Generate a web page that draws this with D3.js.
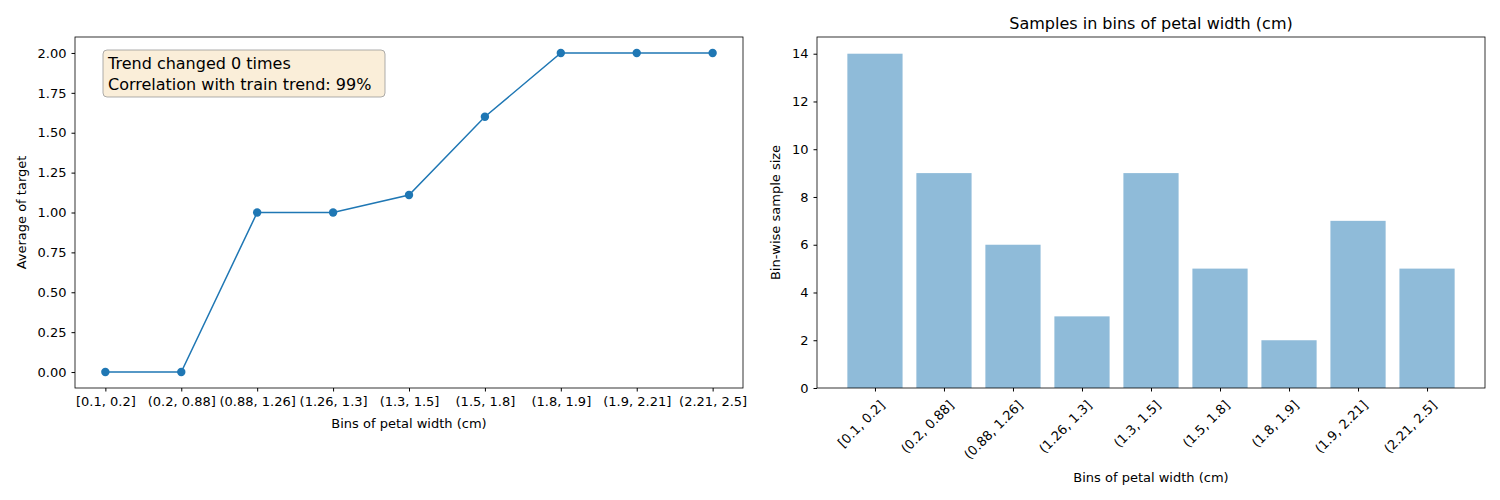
<!DOCTYPE html><html><head><meta charset="utf-8">
<script src="https://cdn.jsdelivr.net/npm/d3@7"></script>
<style>body{margin:0;background:#fff}text{font-family:"DejaVu Sans",sans-serif;fill:#000}</style></head><body>
<svg id="c" width="1500" height="500"></svg>
<script>
const categories=["[0.1,  0.2]","(0.2, 0.88]","(0.88, 1.26]","(1.26, 1.3]","(1.3, 1.5]","(1.5, 1.8]","(1.8, 1.9]","(1.9, 2.21]","(2.21, 2.5]"];
const barCategories=["[0.1, 0.2]","(0.2, 0.88]","(0.88, 1.26]","(1.26, 1.3]","(1.3, 1.5]","(1.5, 1.8]","(1.8, 1.9]","(1.9, 2.21]","(2.21, 2.5]"];
const avgTarget=[0,0,1,1,1.11,1.6,2,2,2];
const sampleSize=[14,9,6,3,9,5,2,7,5];
const leftTicks=[0,0.25,0.5,0.75,1.0,1.25,1.5,1.75,2.0];
const rightTicks=[0,2,4,6,8,10,12,14];
const svg=d3.select("#c");
const fs="13px";
function styleAxis(g){g.selectAll("path,line").attr("stroke","#000");g.selectAll("text").style("font-size",fs).attr("fill","#000");}
// left
const L={x0:75,x1:743,y0:37,y1:388};
const xl=d3.scaleLinear().domain([-0.4,8.4]).range([L.x0,L.x1]);
const yl=d3.scaleLinear().domain([-0.1,2.1]).range([L.y1,L.y0]);
const gl=svg.append("g");
gl.append("g").attr("transform",`translate(0,${L.y1})`).call(d3.axisBottom(xl).tickValues(d3.range(9)).tickFormat(i=>categories[i]).tickSize(3.5).tickPadding(5)).call(styleAxis).select(".domain").remove();
gl.append("g").attr("transform",`translate(${L.x0},0)`).call(d3.axisLeft(yl).tickValues(leftTicks).tickFormat(d3.format(".2f")).tickSize(3.5).tickPadding(5)).call(styleAxis).select(".domain").remove();
gl.append("rect").attr("x",L.x0).attr("y",L.y0).attr("width",L.x1-L.x0).attr("height",L.y1-L.y0).attr("fill","none").attr("stroke","#000").attr("stroke-width",0.8);
gl.append("path").datum(avgTarget).attr("fill","none").attr("stroke","#1f77b4").attr("stroke-width",1.5).attr("d",d3.line().x((d,i)=>xl(i)).y(d=>yl(d)));
gl.selectAll("circle").data(avgTarget).join("circle").attr("cx",(d,i)=>xl(i)).attr("cy",d=>yl(d)).attr("r",4.2).attr("fill","#1f77b4");
gl.append("text").attr("x",(L.x0+L.x1)/2).attr("y",428).attr("text-anchor","middle").style("font-size",fs).text("Bins of petal width (cm)");
gl.append("text").attr("transform",`translate(26,${(L.y0+L.y1)/2}) rotate(-90)`).attr("text-anchor","middle").style("font-size",fs).text("Average of target");
gl.append("rect").attr("x",103).attr("y",50).attr("width",282).attr("height",47).attr("rx",4).attr("fill","#f5deb3").attr("fill-opacity",0.5).attr("stroke","#999").attr("stroke-opacity",0.8);
gl.append("text").attr("x",108).attr("y",69).style("font-size","16px").text("Trend changed 0 times");
gl.append("text").attr("x",108).attr("y",90).style("font-size","16px").text("Correlation with train trend: 99%");
// right
const R={x0:817,x1:1485,y0:37,y1:388};
const xr=d3.scaleLinear().domain([-0.84,8.84]).range([R.x0,R.x1]);
const yr=d3.scaleLinear().domain([0,14.7]).range([R.y1,R.y0]);
const gr=svg.append("g");
const bw=xr(0.8)-xr(0);
gr.selectAll("rect.bar").data(sampleSize).join("rect").attr("class","bar").attr("x",(d,i)=>xr(i)-bw/2).attr("width",bw).attr("y",d=>yr(d)).attr("height",d=>yr(0)-yr(d)).attr("fill","#1f77b4").attr("fill-opacity",0.5);
const xa=gr.append("g").attr("transform",`translate(0,${R.y1})`).call(d3.axisBottom(xr).tickValues(d3.range(9)).tickFormat(i=>barCategories[i]).tickSize(3.5).tickPadding(5)).call(styleAxis);
xa.select(".domain").remove();
xa.selectAll("text").attr("text-anchor","end").attr("dy","0").attr("transform","translate(4,12) rotate(-45)");
gr.append("g").attr("transform",`translate(${R.x0},0)`).call(d3.axisLeft(yr).tickValues(rightTicks).tickSize(3.5).tickPadding(5)).call(styleAxis).select(".domain").remove();
gr.append("rect").attr("x",R.x0).attr("y",R.y0).attr("width",R.x1-R.x0).attr("height",R.y1-R.y0).attr("fill","none").attr("stroke","#000").attr("stroke-width",0.8);
gr.append("text").attr("x",(R.x0+R.x1)/2).attr("y",482).attr("text-anchor","middle").style("font-size",fs).text("Bins of petal width (cm)");
gr.append("text").attr("transform",`translate(780,${(R.y0+R.y1)/2}) rotate(-90)`).attr("text-anchor","middle").style("font-size",fs).text("Bin-wise sample size");
gr.append("text").attr("x",(R.x0+R.x1)/2).attr("y",29).attr("text-anchor","middle").style("font-size","16px").text("Samples in bins of petal width (cm)");
</script></body></html>
